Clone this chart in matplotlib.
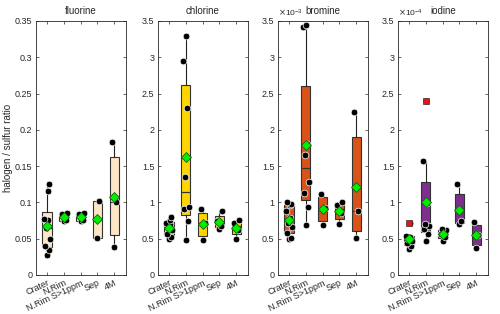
import numpy as np
import matplotlib
matplotlib.use("Agg")
import matplotlib.pyplot as plt
from matplotlib.ticker import ScalarFormatter, MultipleLocator

plt.rcParams['font.family'] = ['Liberation Sans', 'DejaVu Sans']

categories = ["Crater", "N.Rim", "N.Rim S>1ppm", "Sep", "4M"]
titles = ["fluorine", "chlorine", "bromine", "iodine"]

fluorine = [
    [0.028, 0.034, 0.040, 0.050, 0.065, 0.076, 0.077, 0.116, 0.126],
    [0.074, 0.076, 0.084, 0.086],
    [0.074, 0.076, 0.084, 0.086],
    [0.051, 0.102],
    [0.039, 0.101, 0.183],
]
chlorine = [
    [0.50, 0.52, 0.57, 0.62, 0.68, 0.70, 0.72, 0.76, 0.80],
    [0.48, 0.74, 0.91, 0.94, 1.35, 2.30, 2.95, 3.29],
    [0.48, 0.71, 0.91],
    [0.64, 0.68, 0.74, 0.88],
    [0.50, 0.62, 0.72, 0.76],
]
bromine = [
    [0.50e-3, 0.51e-3, 0.58e-3, 0.66e-3, 0.72e-3, 0.78e-3, 0.88e-3, 0.96e-3, 0.98e-3, 1.01e-3],
    [0.69e-3, 0.94e-3, 1.13e-3, 1.28e-3, 1.66e-3, 1.80e-3, 3.42e-3, 3.45e-3],
    [0.69e-3, 0.93e-3, 1.12e-3],
    [0.70e-3, 0.85e-3, 0.97e-3, 1.00e-3],
    [0.51e-3, 0.88e-3, 2.24e-3],
]
iodine = [
    [0.36e-4, 0.40e-4, 0.44e-4, 0.47e-4, 0.50e-4, 0.53e-4, 0.54e-4, 0.72e-4],
    [0.47e-4, 0.56e-4, 0.63e-4, 0.68e-4, 0.70e-4, 0.99e-4, 1.57e-4, 2.40e-4],
    [0.47e-4, 0.52e-4, 0.57e-4, 0.62e-4, 0.64e-4],
    [0.70e-4, 0.74e-4, 1.25e-4],
    [0.37e-4, 0.55e-4, 0.73e-4],
]
all_data = [fluorine, chlorine, bromine, iodine]
ylims = [0.35, 3.5, 3.5e-3, 3.5e-4]
ysteps = [0.05, 0.5, 0.5e-3, 0.5e-4]
exponents = [None, None, -3, -4]
box_colors = ["#FCE6C6", "#FFD500", "#D95319", "#7E2F8E"]

# jitter pattern (cyclic), horizontal offsets in category units
jitter = [0.0, 0.12, -0.12, 0.18, -0.06, 0.08, -0.16, 0.04, 0.15, -0.1]


class GFormatter(ScalarFormatter):
    def _set_format(self):
        self.format = '%g'


def hazen(v, p):
    v = np.sort(np.asarray(v, float))
    n = len(v)
    pos = n * p + 0.5
    if pos <= 1:
        return v[0]
    if pos >= n:
        return v[-1]
    lo = int(np.floor(pos))
    f = pos - lo
    return v[lo - 1] + f * (v[lo] - v[lo - 1])


fig = plt.figure(figsize=(5.0, 3.14), dpi=100)
lefts = [36, 158, 278, 398]
for k in range(4):
    ax = fig.add_axes([lefts[k] / 500, (314 - 275) / 314, 90 / 500, 254 / 314])
    data = all_data[k]
    stats = []
    outliers = []
    for g in data:
        v = np.asarray(g, float)
        q1, med, q3 = hazen(v, 0.25), hazen(v, 0.5), hazen(v, 0.75)
        iqr = q3 - q1
        inside = v[(v >= q1 - 1.5 * iqr) & (v <= q3 + 1.5 * iqr)]
        out = v[(v < q1 - 1.5 * iqr) | (v > q3 + 1.5 * iqr)]
        outliers.append(out)
        stats.append(dict(med=med, q1=q1, q3=q3, whislo=inside.min(),
                          whishi=inside.max(), fliers=[]))
    pos = np.arange(1, len(data) + 1)
    ax.bxp(stats, positions=pos, widths=0.55, patch_artist=True,
           showcaps=False, showfliers=False,
           boxprops=dict(facecolor=box_colors[k], edgecolor="#333333", linewidth=0.8),
           medianprops=dict(color="#333333", linewidth=0.9),
           whiskerprops=dict(color="#222222", linewidth=0.8), zorder=2)
    for i, g in enumerate(data):
        v = np.asarray(g, float)
        xs = pos[i] + np.array([jitter[j % len(jitter)] for j in range(len(v))])
        ax.plot(xs, v, 'o', color='black', markeredgecolor='white',
                markeredgewidth=0.5, markersize=4.8, zorder=3)
        ax.plot([pos[i]], [v.mean()], 'D', color='#00EE00', markeredgecolor='#1a5c1a',
                markeredgewidth=0.6, markersize=4.6, zorder=5)
        if len(outliers[i]):
            ax.plot(np.full(len(outliers[i]), pos[i]), outliers[i], 's', color='#EE1111',
                    markeredgecolor='#333333', markeredgewidth=0.5, markersize=4.2, zorder=4)
    ax.set_xlim(0.35, 5.7)
    ax.set_ylim(0, ylims[k])
    ax.yaxis.set_major_locator(MultipleLocator(ysteps[k]))
    fmt = GFormatter(useMathText=True)
    if exponents[k] is not None:
        fmt.set_powerlimits((0, 0))
    ax.yaxis.set_major_formatter(fmt)
    ax.yaxis.get_offset_text().set_fontsize(6)
    ax.set_xticks(pos)
    ax.set_xticklabels(categories, rotation=25, ha='right', rotation_mode='anchor',
                       fontsize=6.5)
    ax.tick_params(axis='both', direction='in', length=2.5, width=0.5,
                   top=True, right=True, labelsize=6.5, colors='#262626', pad=2.5)
    for s in ax.spines.values():
        s.set_color('#262626')
        s.set_linewidth(0.6)
    ax.set_title(titles[k], fontsize=7, pad=5, color='#262626')
    if k == 0:
        ax.set_ylabel("halogen / sulfur ratio", fontsize=7, color='#262626', labelpad=1.5)

fig.savefig("out.png", dpi=100)
